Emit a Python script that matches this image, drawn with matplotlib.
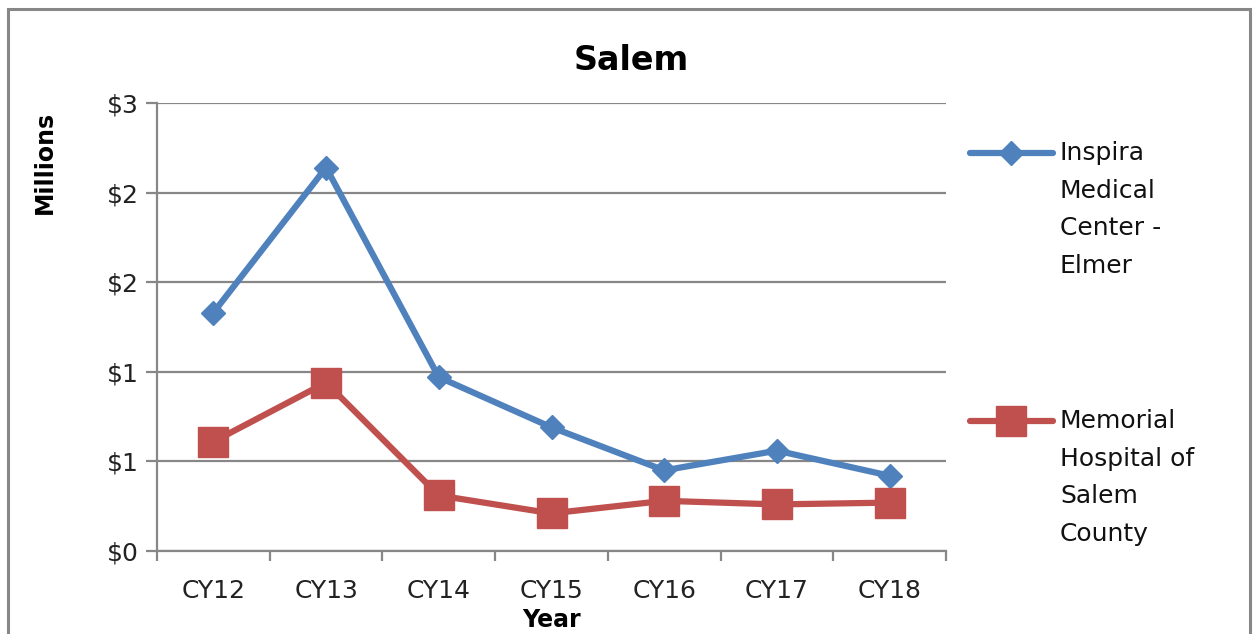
import matplotlib.pyplot as plt
from matplotlib.lines import Line2D
from matplotlib.patches import Rectangle
import numpy as np

# data (millions of dollars)
years = ["CY12", "CY13", "CY14", "CY15", "CY16", "CY17", "CY18"]
inspira = [1.33, 2.14, 0.97, 0.69, 0.45, 0.56, 0.42]
memorial = [0.61, 0.94, 0.31, 0.21, 0.28, 0.26, 0.27]
y_ticks = [0, 0.5, 1.0, 1.5, 2.0, 2.5]
y_tick_labels = ["$0", "$1", "$1", "$2", "$2", "$3"]
names = ["Inspira\nMedical\nCenter -\nElmer", "Memorial\nHospital of\nSalem\nCounty"]

blue = "#4F81BD"
red = "#C0504D"
grey = "#878787"

plt.rcParams['font.family'] = ['DejaVu Sans']

fig = plt.figure(figsize=(12.53, 6.34), dpi=100)
ax = fig.add_axes([157/1253, 1-551/634, (946-157)/1253, (551-103)/634])

x = np.arange(len(years))
ax.plot(x, inspira, color=blue, lw=4.5, marker="D", ms=12, zorder=3)
ax.plot(x, memorial, color=red, lw=4.5, marker="s", ms=22, zorder=3)

ax.set_xlim(-0.5, len(years) - 0.5)
ax.set_ylim(0, 2.5)
ax.set_yticks(y_ticks)
ax.set_yticklabels(y_tick_labels, fontsize=18, color="#222222")
ax.yaxis.grid(True, color=grey, lw=1.6)
ax.set_axisbelow(True)

# category boundaries as major ticks, labels on minor ticks
ax.set_xticks(np.arange(-0.5, len(years), 1.0))
ax.set_xticklabels([])
ax.set_xticks(x, minor=True)
ax.set_xticklabels(years, minor=True, fontsize=18, color="#222222")
ax.tick_params(axis="x", which="minor", length=0, pad=20)
ax.tick_params(axis="x", which="major", length=7, width=1.6, color=grey)
ax.tick_params(axis="y", length=8, width=1.6, color=grey, pad=5)

for s in ["top", "right"]:
    ax.spines[s].set_visible(False)
for s in ["left", "bottom"]:
    ax.spines[s].set_color(grey)
    ax.spines[s].set_linewidth(1.6)

ax.set_xlabel("Year", fontsize=17, fontweight="bold", labelpad=4)
fig.text(631/1253, 1-60/634, "Salem", fontsize=24, fontweight="bold",
         ha="center", va="center")
fig.text(45/1253, 1-162/634, "Millions", fontsize=17, fontweight="bold",
         rotation=90, ha="center", va="center")

# legend drawn by hand so the handle sits on the first text line
for (label, col, mk, ms), ly in zip(
        [(names[0], blue, "D", 12), (names[1], red, "s", 22)], [153, 421]):
    yf = 1 - ly/634
    fig.add_artist(Line2D([970/1253, 1053/1253], [yf, yf], color=col, lw=4.5,
                          solid_capstyle="round"))
    fig.add_artist(Line2D([1011/1253], [yf], color=col, marker=mk, ms=ms))
    fig.text(1060/1253, 1-(ly-12)/634, label, fontsize=18, va="top",
             ha="left", linespacing=1.72, color="#111111")

# outer chart frame (bottom edge cut off)
fig.add_artist(Rectangle((8/1253, -0.1), (1250-8)/1253, 1.1-9/634,
                         transform=fig.transFigure, fill=False,
                         edgecolor=grey, lw=2.2))

fig.savefig("out.png", dpi=100)
